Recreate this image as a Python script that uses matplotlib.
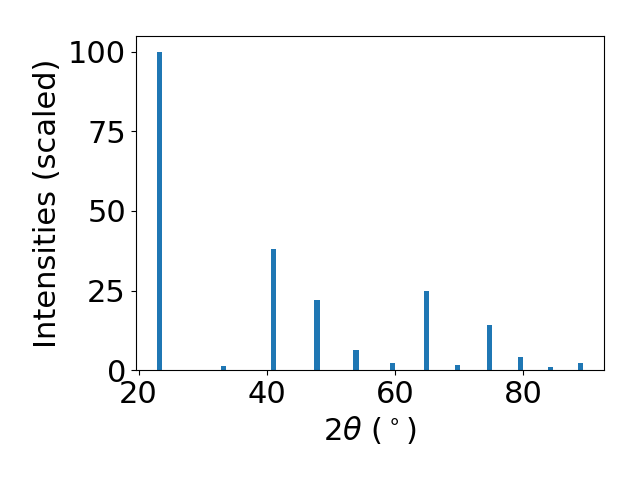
import matplotlib
matplotlib.use("Agg")
import matplotlib.pyplot as plt

# peak positions (2theta, degrees) and scaled intensities
two_theta = [23.27, 33.27, 41.06, 47.86, 53.95, 59.58, 64.89, 69.84, 74.82, 79.63, 84.3, 88.97]
intensity = [100, 1.3, 38.2, 21.9, 6.2, 2.1, 24.7, 1.5, 14.1, 4.1, 0.9, 2.1]

plt.rcParams["font.size"] = 22

fig, ax = plt.subplots(figsize=(6.4, 4.8), dpi=100)
ax.bar(two_theta, intensity, width=0.8)
ax.set_xlabel(r"$2\theta$ ($^\circ$)")
ax.set_ylabel("Intensities (scaled)")
fig.subplots_adjust(left=0.212, right=0.944, top=0.925, bottom=0.229)
fig.savefig("out.png", dpi=100)
